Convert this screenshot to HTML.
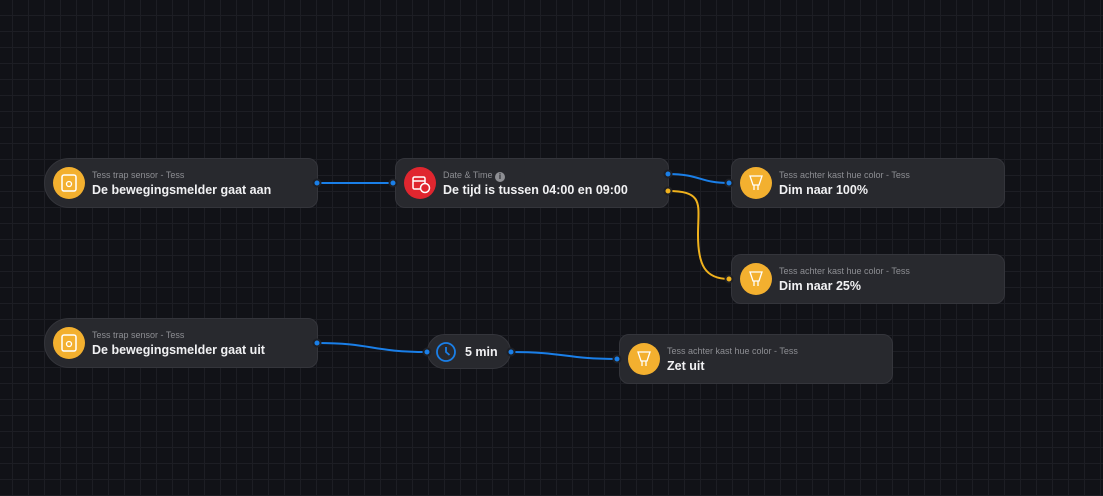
<!DOCTYPE html>
<html><head><meta charset="utf-8"><style>
html,body{margin:0;padding:0}
body{width:1103px;height:496px;overflow:hidden;position:relative;background-color:#111217;
background-image:linear-gradient(to right,#1d1e24 1px,transparent 1px),linear-gradient(to bottom,#1d1e24 1px,transparent 1px);
background-size:16px 16px;background-position:12px 15px;font-family:"Liberation Sans",sans-serif}
.n{position:absolute;height:50px;background:#28292e;border:1px solid #34353b;box-sizing:border-box;border-radius:10px}
.n.t{border-radius:25px 10px 10px 25px}
.ic{position:absolute;left:8px;top:8px;width:32px;height:32px;border-radius:50%;background:#f3b02f}
.ic.r{background:#e0262f}
.s{position:absolute;left:47px;top:11px;font-size:9px;color:#8d8e93;white-space:nowrap}
.m{position:absolute;left:47px;top:24px;font-size:12.5px;font-weight:bold;color:#f1f1f3;white-space:nowrap}
svg.e{position:absolute;left:0;top:0}
</style></head><body>
<svg class="e" width="1103" height="496">
<g fill="none" stroke-width="2">
<path d="M317 183 L393 183" stroke="#1a7fe8"/>
<path d="M668 174 C700 174,700 183,729 183" stroke="#1a7fe8"/>
<path d="M668 191 C705 191,698 205,698 235 C698 265,705 279,729 279" stroke="#f0b21d"/>
<path d="M317 343 C372 343,372 352,427 352" stroke="#1a7fe8"/>
<path d="M511 352 C565 352,565 359,617 359" stroke="#1a7fe8"/>
</g>
</svg>
<div class="n t" style="left:44px;top:158px;width:274px"><div class="ic"><svg width="32" height="32"><rect x="9" y="8" width="14" height="16" rx="2" fill="none" stroke="#fff" stroke-width="1.5"/><circle cx="16" cy="17" r="2.5" fill="none" stroke="#fff" stroke-width="1.3"/></svg></div><div class="s">Tess trap sensor - Tess</div><div class="m">De bewegingsmelder gaat aan</div></div>
<div class="n" style="left:395px;top:158px;width:274px"><div class="ic r"><svg width="32" height="32"><rect x="9" y="10" width="12" height="12" rx="1.5" fill="none" stroke="#fff" stroke-width="1.5"/><line x1="9" y1="14" x2="21" y2="14" stroke="#fff" stroke-width="1.5"/><circle cx="21" cy="21" r="4.5" fill="#e0262f" stroke="#fff" stroke-width="1.5"/></svg></div><div class="s">Date &amp; Time <span style="display:inline-block;width:10px;height:10px;border-radius:50%;background:#8d8e93;color:#28292e;font-size:8px;text-align:center;line-height:10px;font-weight:bold;vertical-align:-1px">i</span></div><div class="m">De tijd is tussen 04:00 en 09:00</div></div>
<div class="n" style="left:731px;top:158px;width:274px"><div class="ic"><svg width="32" height="32"><path d="M10 9 H22 L19 18 H13 Z M14 18 V23 M18 18 V23" fill="none" stroke="#fff" stroke-width="1.3"/></svg></div><div class="s">Tess achter kast hue color - Tess</div><div class="m">Dim naar 100%</div></div>
<div class="n" style="left:731px;top:254px;width:274px"><div class="ic"><svg width="32" height="32"><path d="M10 9 H22 L19 18 H13 Z M14 18 V23 M18 18 V23" fill="none" stroke="#fff" stroke-width="1.3"/></svg></div><div class="s">Tess achter kast hue color - Tess</div><div class="m">Dim naar 25%</div></div>
<div class="n t" style="left:44px;top:318px;width:274px"><div class="ic"><svg width="32" height="32"><rect x="9" y="8" width="14" height="16" rx="2" fill="none" stroke="#fff" stroke-width="1.5"/><circle cx="16" cy="17" r="2.5" fill="none" stroke="#fff" stroke-width="1.3"/></svg></div><div class="s">Tess trap sensor - Tess</div><div class="m">De bewegingsmelder gaat uit</div></div>
<div class="n" style="left:427px;top:334px;width:84px;height:35px;border-radius:18px"><svg style="position:absolute;left:6px;top:5px" width="24" height="24"><circle cx="12" cy="12" r="9" fill="none" stroke="#1a7fe8" stroke-width="1.8"/><path d="M12 7 V12 L15.5 15" fill="none" stroke="#1a7fe8" stroke-width="1.8"/></svg><div style="position:absolute;left:37px;top:10px;font-size:12.5px;font-weight:bold;color:#f1f1f3">5 min</div></div>
<div class="n" style="left:619px;top:334px;width:274px"><div class="ic"><svg width="32" height="32"><path d="M10 9 H22 L19 18 H13 Z M14 18 V23 M18 18 V23" fill="none" stroke="#fff" stroke-width="1.3"/></svg></div><div class="s">Tess achter kast hue color - Tess</div><div class="m">Zet uit</div></div>
<svg class="e" width="1103" height="496">
<g stroke="#1f2025" stroke-width="2">
<circle cx="317" cy="183" r="3.5" fill="#1a7fe8"/><circle cx="393" cy="183" r="3.5" fill="#1a7fe8"/>
<circle cx="668" cy="174" r="3.5" fill="#1a7fe8"/><circle cx="668" cy="191" r="3.5" fill="#f0b21d"/>
<circle cx="729" cy="183" r="3.5" fill="#1a7fe8"/><circle cx="729" cy="279" r="3.5" fill="#f0b21d"/>
<circle cx="317" cy="343" r="3.5" fill="#1a7fe8"/><circle cx="427" cy="352" r="3.5" fill="#1a7fe8"/>
<circle cx="511" cy="352" r="3.5" fill="#1a7fe8"/><circle cx="617" cy="359" r="3.5" fill="#1a7fe8"/>
</g>
</svg>
</body></html>
